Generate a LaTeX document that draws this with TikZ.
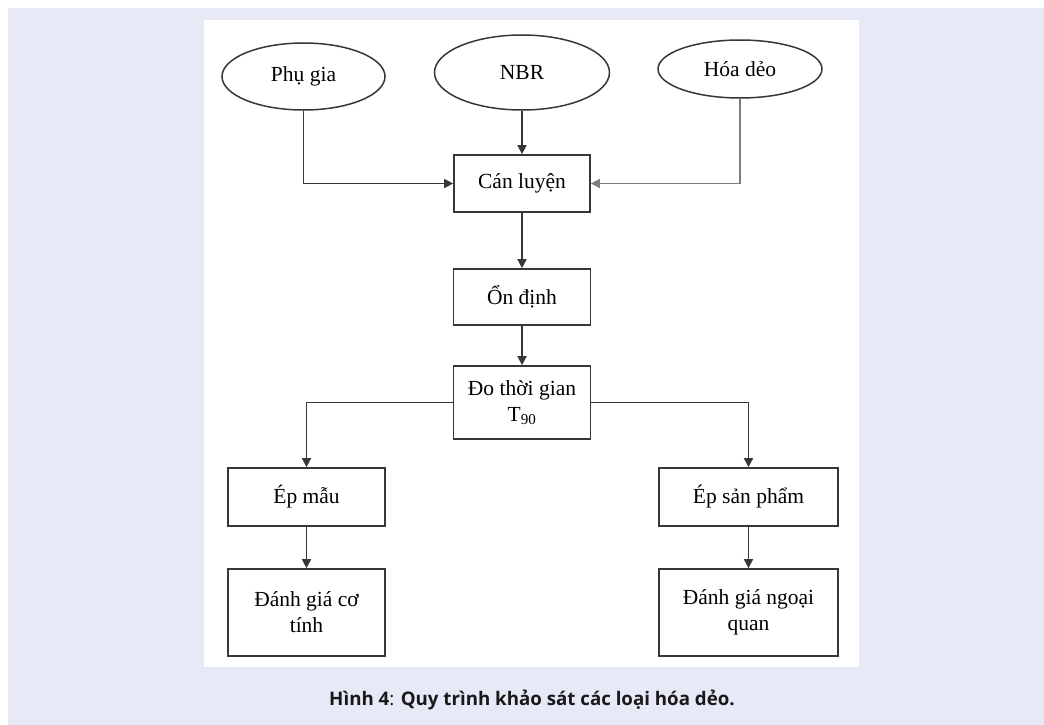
\documentclass[tikz,border=0pt]{standalone}
\usepackage{fontspec}
\setmainfont{Liberation Serif}
\newfontfamily\capfont{Open Sans}
\definecolor{bglavender}{RGB}{231,234,246}
\definecolor{lnegray}{RGB}{55,55,55}
\usetikzlibrary{arrows.meta,positioning,shapes.geometric}

\tikzset{
  stepbox/.style={draw=lnegray, line width=1.7pt, rectangle, inner sep=2pt, align=center,
                  font=\fontsize{21.5}{26}\selectfont},
  inputell/.style={draw=lnegray, line width=1.5pt, ellipse, inner sep=0pt,
                  font=\fontsize{21.5}{26}\selectfont},
  arr/.style={draw=lnegray, line width=1.6pt, -{Triangle[length=9pt,width=9pt]}}
}

\begin{document}
\begin{tikzpicture}[x=1pt, y=-1pt]

% --- background and panel ---
\fill[white] (0,0) rectangle (1044,725);
\fill[bglavender] (8,8) rectangle (1044,725);
\fill[white] (204,20) rectangle (859,667);
\useasboundingbox (0,0) rectangle (1044,725);

% --- inputs ---
\node[inputell, minimum width=163pt, minimum height=67pt] (phugia) at (303.5,76.5) {Phụ gia};
\node[inputell, minimum width=175pt, minimum height=75pt] (nbr) at (522,72.5) {NBR};
\node[inputell, minimum width=164pt, minimum height=58pt] (hoadeo) at (740,69) {Hóa dẻo};

% --- main steps ---
\node[stepbox, minimum width=136pt, minimum height=57pt] (canluyen) at (522,183.5) {Cán luyện};
\node[stepbox, minimum width=137pt, minimum height=56pt] (ondinh) at (522,297) {Ổn định};
\node[stepbox, minimum width=137pt, minimum height=73pt] (dothoigian) at (522,402.5)
     {Đo thời gian\\T\textsubscript{90}};

% --- branches ---
\node[stepbox, minimum width=157pt, minimum height=58pt] (epmau) at (306.5,497) {Ép mẫu};
\node[stepbox, minimum width=179pt, minimum height=58pt] (epsp) at (748.5,497) {Ép sản phẩm};
\node[stepbox, minimum width=157pt, minimum height=87pt] (dgcotinh) at (306.5,612.5)
     {Đánh giá cơ\\tính};
\node[stepbox, minimum width=179pt, minimum height=87pt] (dgngoaiquan) at (748.5,612.5)
     {Đánh giá ngoại\\quan};

% --- connectors ---
\draw[arr] (phugia.south) |- (canluyen.west);
\draw[arr] (nbr.south) -- (canluyen.north);
\draw[arr, draw=lnegray!65] (hoadeo.south) |- (canluyen.east);
\draw[arr] (canluyen) -- (ondinh);
\draw[arr] (ondinh) -- (dothoigian);
\draw[arr] (dothoigian.west) -| (epmau.north);
\draw[arr] (dothoigian.east) -| (epsp.north);
\draw[arr] (epmau) -- (dgcotinh);
\draw[arr] (epsp) -- (dgngoaiquan);

% --- caption ---
\node[font=\capfont\bfseries\fontsize{18.7}{22}\selectfont, text=black!90] (caption) at (532,700)
     {Hình 4{\mdseries :} Quy trình khảo sát các loại hóa dẻo.};

\end{tikzpicture}
\end{document}
